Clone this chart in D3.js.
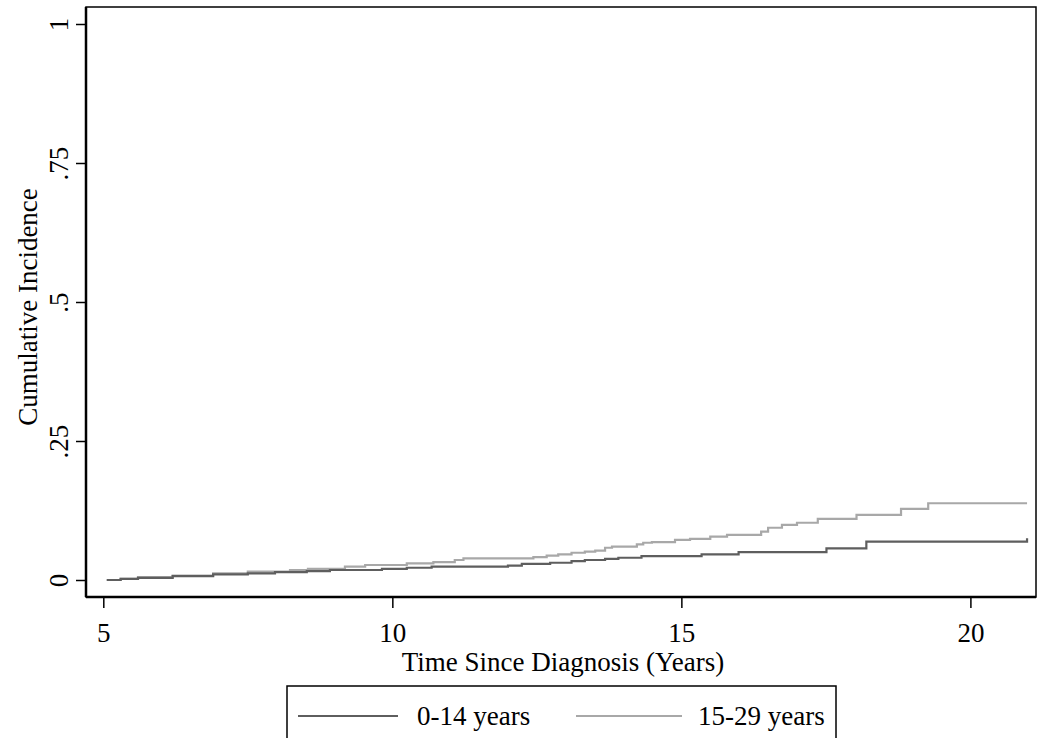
<!DOCTYPE html>
<html>
<head>
<meta charset="utf-8">
<script src="https://cdn.jsdelivr.net/npm/d3@7"></script>
<style>
  html, body { margin: 0; padding: 0; background: #fff; }
  svg { display: block; }
  text { font-family: "Liberation Serif", "Times New Roman", serif; fill: #000; }
</style>
</head>
<body>
<svg id="chart" width="1038" height="738"></svg>
<script>
// ---- data ----
const timeYoung = [5.06, 5.3, 5.6, 6.2, 6.9, 7.5, 7.97, 8.52, 8.92, 9.82, 10.25, 10.68, 12.0, 12.24, 12.73, 13.1, 13.33, 13.68, 13.91, 14.31, 15.35, 15.99, 17.51, 18.2, 20.98];
const cifYoung  = [0, 0.002, 0.004, 0.007, 0.010, 0.012, 0.014, 0.016, 0.018, 0.020, 0.022, 0.024, 0.026, 0.029, 0.031, 0.034, 0.036, 0.038, 0.040, 0.043, 0.046, 0.050, 0.057, 0.069, 0.075];

const timeOld = [5.06, 5.3, 5.6, 6.2, 6.9, 7.5, 8.23, 8.54, 9.18, 9.53, 10.25, 10.71, 11.08, 11.23, 12.44, 12.67, 12.87, 13.1, 13.33, 13.51, 13.68, 13.8, 14.23, 14.34, 14.49, 14.89, 15.15, 15.5, 15.79, 16.38, 16.5, 16.74, 17.0, 17.36, 18.03, 18.8, 19.27, 20.98];
const cifOld  = [0, 0.002, 0.005, 0.008, 0.012, 0.015, 0.018, 0.020, 0.024, 0.027, 0.030, 0.032, 0.036, 0.039, 0.041, 0.044, 0.046, 0.049, 0.051, 0.053, 0.058, 0.060, 0.064, 0.067, 0.068, 0.072, 0.074, 0.078, 0.081, 0.087, 0.094, 0.099, 0.103, 0.110, 0.117, 0.128, 0.138, 0.138];

const seriesNames = ["0-14 years", "15-29 years"];
const seriesColors = ["#5e5e5e", "#a8a8a8"];
const xTicks = [5, 10, 15, 20];
const yTicks = [0, 0.25, 0.5, 0.75, 1];
const yTickLabels = ["0", ".25", ".5", ".75", "1"];
const xTitle = "Time Since Diagnosis (Years)";
const yTitle = "Cumulative Incidence";

// ---- layout ----
const svg = d3.select("#chart");
const box = { left: 86, right: 1036, top: 7, bottom: 597 };
const x = d3.scaleLinear().domain([5, 20]).range([103.3, 970.4]);
const y = d3.scaleLinear().domain([0, 1]).range([580, 24]);
const fs = "27px";

// plot region outline
svg.append("rect")
  .attr("x", box.left).attr("y", box.top)
  .attr("width", box.right - box.left).attr("height", box.bottom - box.top)
  .attr("fill", "none").attr("stroke", "#000").attr("stroke-width", 1.5);

// y axis
const yAxis = d3.axisLeft(y).tickValues(yTicks).tickSize(10).tickFormat((d, i) => yTickLabels[i]);
const gy = svg.append("g").attr("transform", `translate(${box.left},0)`).call(yAxis);
gy.select(".domain").remove();
gy.selectAll(".tick line").attr("stroke", "#000").attr("stroke-width", 1.5);
gy.selectAll(".tick text")
  .attr("x", null).attr("dy", null)
  .attr("transform", "translate(-18,0) rotate(-90)")
  .attr("text-anchor", "middle")
  .style("font-family", "Liberation Serif")
  .style("font-size", fs);
svg.append("line").attr("x1", box.left).attr("x2", box.left)
  .attr("y1", box.top).attr("y2", box.bottom).attr("stroke", "#000").attr("stroke-width", 2.5);

// x axis
const xAxis = d3.axisBottom(x).tickValues(xTicks).tickSize(11).tickFormat(d3.format("d"));
const gx = svg.append("g").attr("transform", `translate(0,${box.bottom})`).call(xAxis);
gx.select(".domain").remove();
gx.selectAll(".tick line").attr("stroke", "#000").attr("stroke-width", 1.5);
gx.selectAll(".tick text")
  .attr("y", 45).attr("dy", null)
  .style("font-family", "Liberation Serif")
  .style("font-size", fs);
svg.append("line").attr("x1", box.left).attr("x2", box.right)
  .attr("y1", box.bottom).attr("y2", box.bottom).attr("stroke", "#000").attr("stroke-width", 2.5);

// titles
svg.append("text").attr("x", 563).attr("y", 671)
  .attr("text-anchor", "middle").style("font-size", fs).text(xTitle);
svg.append("text").attr("transform", `translate(37,307) rotate(-90)`)
  .attr("text-anchor", "middle").style("font-size", fs).text(yTitle);

// step lines
const line = d3.line().curve(d3.curveStepAfter).x(d => x(d[0])).y(d => y(d[1]));
const seriesData = [d3.zip(timeYoung, cifYoung), d3.zip(timeOld, cifOld)];
// draw light first so the dark line sits where they overlap
[1, 0].forEach(i => {
  svg.append("path").datum(seriesData[i])
    .attr("d", line).attr("fill", "none")
    .attr("stroke", seriesColors[i]).attr("stroke-width", 2.2);
});

// legend
const lg = svg.append("g");
lg.append("rect").attr("x", 287).attr("y", 686).attr("width", 549).attr("height", 60)
  .attr("fill", "#fff").attr("stroke", "#000").attr("stroke-width", 1.5);
const legendPos = [{ x1: 298, x2: 398, tx: 417 }, { x1: 576, x2: 682, tx: 698 }];
seriesNames.forEach((name, i) => {
  lg.append("line").attr("x1", legendPos[i].x1).attr("x2", legendPos[i].x2)
    .attr("y1", 716).attr("y2", 716).attr("stroke", seriesColors[i]).attr("stroke-width", 2.2);
  lg.append("text").attr("x", legendPos[i].tx).attr("y", 725)
    .style("font-size", fs).text(name);
});
</script>
</body>
</html>
